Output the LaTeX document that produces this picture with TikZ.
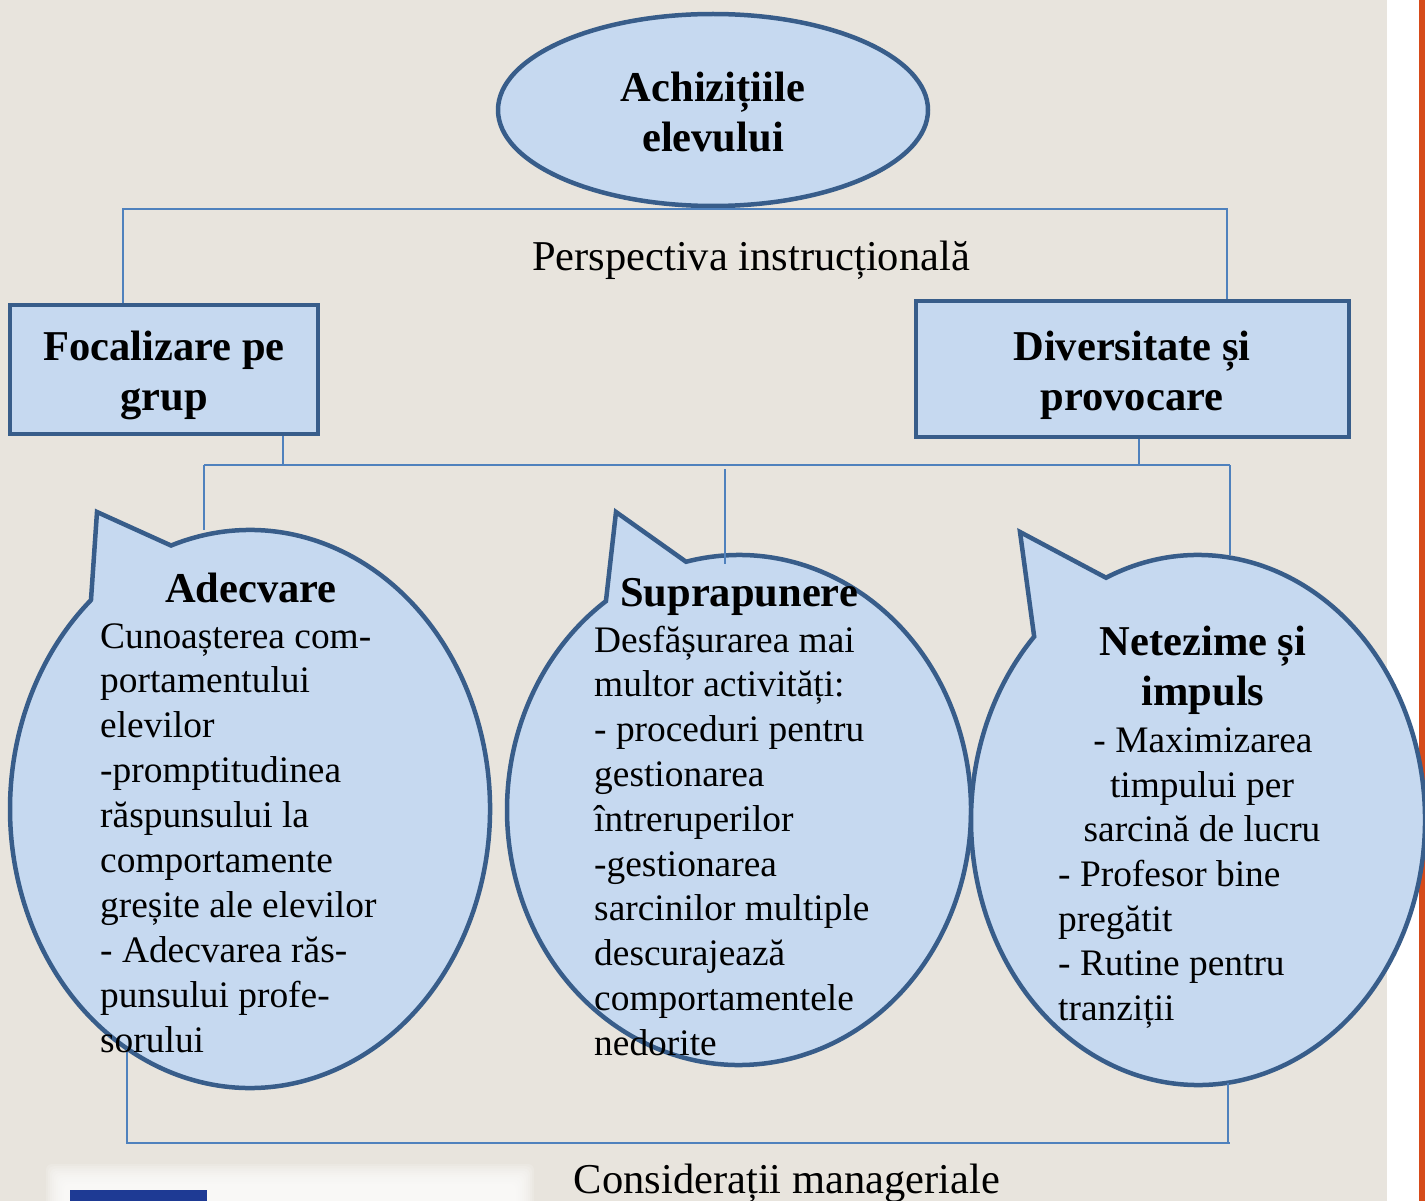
\documentclass[tikz,border=0pt]{standalone}
\usepackage{fontspec}
\setmainfont{Liberation Serif}
\usetikzlibrary{shapes.geometric,calc}
\definecolor{bg}{HTML}{E8E4DD}
\definecolor{shapefill}{HTML}{C6D9F0}
\definecolor{shapeline}{HTML}{385D8A}
\definecolor{connline}{HTML}{4F81BD}
\definecolor{barorange}{HTML}{D64B1A}
\definecolor{logoblue}{HTML}{1E3A94}
\begin{document}
\begin{tikzpicture}[x=1pt,y=1pt,
  shp/.style={fill=shapefill,draw=shapeline,line width=4.5pt},
  conn/.style={draw=connline,line width=2.2pt},
  head/.style={font=\fontsize{42.5}{52}\selectfont\bfseries, inner sep=0pt, anchor=base},
  body/.style={font=\fontsize{37.4}{45}\selectfont, inner sep=0pt, anchor=base west},
  bodyc/.style={font=\fontsize{37.4}{45}\selectfont, inner sep=0pt, anchor=base},
  lbl/.style={font=\fontsize{42.5}{52}\selectfont, inner sep=0pt, anchor=base},
  ghost/.style={ellipse, inner sep=0pt, outer sep=0pt}
]
\useasboundingbox (0,0) rectangle (1425,-1201);
% background
\fill[bg] (0,0) rectangle (1387,-1201);
\fill[white] (1387,0) rectangle (1419,-1201);
\fill[barorange] (1419,0) rectangle (1425,-1201);
% bottom-left soft glow and logo strip
\foreach \k in {0,...,9}
  \fill[white, opacity=0.16, rounded corners=6pt]
    ({46+2*\k},{-1164-2.2*\k}) rectangle ({534-2*\k},-1210);
\fill[logoblue] (70,-1190) rectangle (207,-1201);

% top ellipse
\node[shp, ellipse, minimum width=430pt, minimum height=192pt, inner sep=0pt] (ach) at (713,-110) {};
\node[head] (ach1) at (713,-102) {Achizițiile};
\node[head] (ach2) at (713,-152) {elevului};

% boxes
\node[shp, rectangle, minimum width=308pt, minimum height=129pt, inner sep=0pt] (fg) at (164,-369.5) {};
\node[head] (fg1) at (164,-360) {Focalizare pe};
\node[head] (fg2) at (164,-410) {grup};
\node[shp, rectangle, minimum width=433pt, minimum height=136pt, inner sep=0pt] (dp) at (1132.5,-369) {};
\node[head] (dp1) at (1132,-360) {Diversitate și};
\node[head] (dp2) at (1132,-410) {provocare};

% bubbles (ghost ellipses give names)
\node[ghost, minimum width=480pt, minimum height=558pt] (bubA) at (250,-809) {};
\node[ghost, minimum width=464pt, minimum height=510pt] (bubB) at (739,-810) {};
\node[ghost, minimum width=454pt, minimum height=530pt] (bubC) at (1198,-820) {};
\path[shp] (97,-512) -- ($(bubA.center)+(109.2:240pt and 279pt)$)
  arc[start angle=109.2, end angle=-228.5, x radius=240pt, y radius=279pt] -- cycle;
\path[shp] (616,-512) -- ($(bubB.center)+(103.2:232pt and 255pt)$)
  arc[start angle=103.2, end angle=-235, x radius=232pt, y radius=255pt] -- cycle;
\path[shp] (1020,-532) -- ($(bubC.center)+(113.9:227pt and 265pt)$)
  arc[start angle=113.9, end angle=-223.8, x radius=227pt, y radius=265pt] -- cycle;

% connectors: top
\draw[conn] ([xshift=-41pt]fg.north) -- ++(0,94) -| ([xshift=94.5pt]dp.north);
\node[lbl] (persp) at (751,-271) {Perspectiva instrucțională};
% connectors: middle
\coordinate (fgout) at ([xshift=119pt]fg.south);
\coordinate (dpout) at ([xshift=6.5pt]dp.south);
\coordinate (jL) at (204,-465);
\coordinate (jM) at (725,-469);
\coordinate (jR) at (1230,-465);
\draw[conn] (fgout) -- (fgout |- jL);
\draw[conn] (dpout) -- (dpout |- jR);
\draw[conn] (jL) -- (jR);
\draw[conn] (jL) -- (jL |- bubA.north);
\draw[conn] (jM) -- ($(jM |- bubB.north)+(0,-9)$);
\draw[conn] (jR) -- (jR |- bubC.north);
% connectors: bottom
\coordinate (Abot) at ($(bubA.center)+(239.2:240pt and 279pt)$);
\coordinate (Cbot) at ($(bubC.center)+(277.6:227pt and 265pt)$);
\coordinate (botbar) at (0,-1143);
\coordinate (bR) at (1230,-1143);
\draw[conn] (Abot) -- (Abot |- botbar) -- (bR);
\draw[conn] (Cbot) -- (Cbot |- botbar);
\node[lbl] (cons) at (787,-1193) {Considerații manageriale};

% left bubble text
\node[head] (ha) at (251,-602) {Adecvare};
\foreach \t [count=\i] in {Cunoașterea com-, portamentului, elevilor, -promptitudinea, răspunsului la, comportamente, greșite ale elevilor, - Adecvarea răs-, punsului profe-, sorului}
  \node[body] (la\i) at (100,{-648-44.9*(\i-1)}) {\t};

% middle bubble text
\node[head] (hb) at (739,-606) {Suprapunere};
\foreach \t [count=\i] in {Desfășurarea mai, multor activități:, - proceduri pentru, gestionarea, întreruperilor, -gestionarea, sarcinilor multiple, descurajează, comportamentele, nedorite}
  \node[body] (lb\i) at (594,{-652-44.8*(\i-1)}) {\t};

% right bubble text
\node[head] (hc1) at (1203,-655) {Netezime și};
\node[head] (hc2) at (1203,-705) {impuls};
\node[bodyc] (lc1) at (1203,-752) {- Maximizarea};
\node[bodyc] (lc2) at (1202,-797) {timpului per};
\node[bodyc] (lc3) at (1202,-841) {sarcină de lucru};
\node[body] (lc4) at (1058,-886) {- Profesor bine};
\node[body] (lc5) at (1058,-931) {pregătit};
\node[body] (lc6) at (1058,-975) {- Rutine pentru};
\node[body] (lc7) at (1058,-1020) {tranziții};
\end{tikzpicture}
\end{document}
